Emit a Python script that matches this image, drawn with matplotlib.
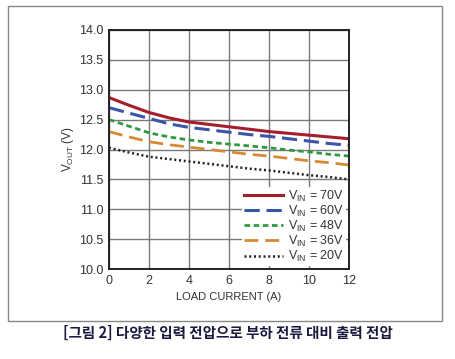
import matplotlib.pyplot as plt
from matplotlib.patches import Rectangle

plt.rcParams['font.family'] = ['Liberation Sans', 'DejaVu Sans']
plt.rcParams['mathtext.fontset'] = 'custom'
plt.rcParams['mathtext.rm'] = 'Liberation Sans'

# load current (A)
current = [0, 1, 2, 3, 4, 5, 6, 7, 8, 9, 10, 11, 12]
# output voltage for each input voltage
v70 = [12.87, 12.74, 12.62, 12.53, 12.46, 12.42, 12.38, 12.34, 12.30, 12.27, 12.24, 12.21, 12.18]
v60 = [12.70, 12.61, 12.52, 12.43, 12.37, 12.33, 12.29, 12.25, 12.22, 12.18, 12.14, 12.10, 12.07]
v48 = [12.50, 12.39, 12.28, 12.21, 12.16, 12.12, 12.09, 12.06, 12.03, 11.99, 11.96, 11.92, 11.89]
v36 = [12.30, 12.21, 12.13, 12.08, 12.04, 12.00, 11.96, 11.92, 11.89, 11.85, 11.81, 11.78, 11.74]
v20 = [12.03, 11.95, 11.88, 11.84, 11.80, 11.76, 11.72, 11.68, 11.65, 11.61, 11.57, 11.54, 11.50]

labels = ['70V', '60V', '48V', '36V', '20V']
caption = '[그림 2] 다양한 입력 전압으로 부하 전류 대비 출력 전압'

fig = plt.figure(figsize=(4.56, 3.59), dpi=100)
ax = fig.add_axes([109/456, 1 - 269/359, 240/456, 239/359])

ax.plot(current, v70, color='#a41e2e', lw=2.2, ls='-')
ax.plot(current, v60, color='#3b55a8', lw=2.2, ls=(0, (5, 2.2)))
ax.plot(current, v48, color='#2e9a40', lw=2.0, ls=(0, (2, 1.3)))
ax.plot(current, v36, color='#d68a34', lw=2.0, ls=(0, (5, 2.5)))
ax.plot(current, v20, color='#222222', lw=1.8, ls=(0, (0.8, 1.1)))

ax.set_xlim(0, 12)
ax.set_ylim(10, 14)
ax.set_xticks(range(0, 13, 2))
ax.set_yticks([10 + 0.5 * i for i in range(9)])
ax.set_yticklabels(['%.1f' % (10 + 0.5 * i) for i in range(9)])
ax.grid(True, color='#7a7a7a', lw=1.0)
ax.tick_params(length=0, labelsize=9, colors='#333333', pad=4)
for s in ax.spines.values():
    s.set_linewidth(1.4)
    s.set_color('#222222')

ax.set_xlabel('LOAD CURRENT (A)', fontsize=8, color='#333333', labelpad=4)
ax.set_ylabel(r'V$_{\mathrm{OUT}}$ (V)', fontsize=8.5, color='#333333', labelpad=2)

leg = ax.legend([r'V$_{\mathrm{IN}}$ = ' + l for l in labels], loc='lower right',
                fontsize=9, frameon=True, fancybox=False, framealpha=1,
                handlelength=3.1, handletextpad=0.4, labelspacing=0.0,
                borderaxespad=0.25, borderpad=0.15)
leg.get_frame().set_edgecolor('none')
for t in leg.get_texts():
    t.set_color('#333333')

fig.patches.append(Rectangle((8/456, 1 - 321/359), 434/456, 315/359,
                             transform=fig.transFigure, fill=False,
                             edgecolor='#888888', lw=1.0))
fig.text(0.5, 1 - 333/359, caption, ha='center', va='center', fontsize=10.5,
         fontweight='bold', color='#1a1a40',
         family=['Noto Sans CJK KR', 'DejaVu Sans'])

fig.savefig('out.png', dpi=100)
